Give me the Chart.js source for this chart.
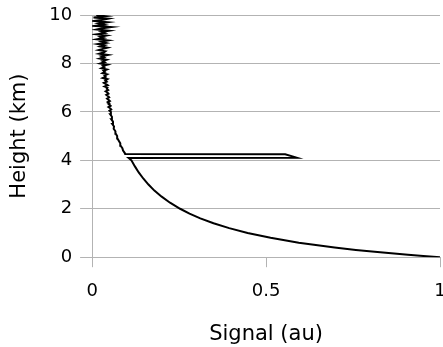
<!DOCTYPE html>
<html>
<head>
<meta charset="utf-8">
<script src="https://cdn.jsdelivr.net/npm/chart.js@4.4.1/dist/chart.umd.min.js"></script>
<style>
  html, body { margin: 0; padding: 0; background: #fff; }
  #wrap { width: 443px; height: 347px; }
</style>
</head>
<body>
<div id="wrap"><canvas id="chart" width="443" height="347"></canvas></div>
<script>
/* --------------- Axis labels --------------------- */
const xTitle = "Signal (au)";
const yTitle = "Height (km)";
const xTickLabels = ["0", "0.5", "1"];
const yTickLabels = ["0", "2", "4", "6", "8", "10"];

/* --------------- Profile: height (km) and signal (au) --------------------- */
// smooth decay below the layer
const lowHeights = [0, 0.05, 0.1, 0.2, 0.3, 0.4, 0.5, 0.6, 0.8, 1.0, 1.2, 1.4, 1.6, 1.8,
  2.0, 2.25, 2.5, 2.75, 3.0, 3.25, 3.5, 3.75, 4.0, 4.1];
const lowSignal = [1.0, 0.952, 0.908, 0.828, 0.758, 0.697, 0.643, 0.594, 0.513, 0.447, 0.394,
  0.349, 0.311, 0.28, 0.253, 0.224, 0.2, 0.179, 0.162, 0.147, 0.134, 0.123, 0.113, 0.105];
// cloud layer spike near 4.2 km
const layerHeights = [4.11, 4.25, 4.26];
const layerSignal = [0.588, 0.555, 0.095];
// noisy part above the layer
const highHeights = [4.3, 4.4, 4.5, 4.6, 4.7, 4.8, 4.9, 5.0, 5.1, 5.2, 5.3, 5.4, 5.5, 5.6,
  5.7, 5.8, 5.9, 6.0,
  6.05, 6.1, 6.15, 6.2, 6.25, 6.3, 6.35, 6.4, 6.45, 6.5, 6.55, 6.6, 6.65, 6.7, 6.75, 6.8,
  6.85, 6.9, 6.95, 7.0, 7.05, 7.1, 7.15, 7.2, 7.25, 7.3, 7.35, 7.4, 7.45, 7.5, 7.55, 7.6,
  7.65, 7.7, 7.75, 7.8, 7.85, 7.9, 7.95, 8.0, 8.05, 8.1, 8.15, 8.2, 8.25, 8.3, 8.35, 8.4,
  8.45, 8.5, 8.55, 8.6, 8.65, 8.7, 8.75, 8.8, 8.85, 8.9, 8.95, 9.0, 9.05, 9.1, 9.15, 9.2,
  9.25, 9.3, 9.35, 9.4, 9.45, 9.5, 9.55, 9.6, 9.65, 9.7, 9.75, 9.8, 9.85, 9.9, 9.95, 10.0];
const highSignal = [0.094, 0.089, 0.087, 0.082, 0.081, 0.077, 0.073, 0.072, 0.068, 0.067,
  0.062, 0.063, 0.058, 0.06, 0.055, 0.057, 0.052, 0.054,
  0.05, 0.055, 0.052, 0.047, 0.053, 0.049, 0.05, 0.045, 0.051, 0.047, 0.043, 0.049, 0.046,
  0.041, 0.047, 0.044, 0.039, 0.046, 0.042, 0.044, 0.036, 0.045, 0.04, 0.034, 0.042, 0.038,
  0.044, 0.031, 0.039, 0.036, 0.043, 0.03, 0.037, 0.033, 0.042, 0.027, 0.035, 0.031, 0.044,
  0.024, 0.036, 0.03, 0.041, 0.022, 0.034, 0.027, 0.045, 0.021, 0.033, 0.038, 0.019, 0.031,
  0.044, 0.024, 0.035, 0.017, 0.04, 0.028, 0.046, 0.015, 0.033, 0.024, 0.041, 0.012, 0.036,
  0.027, 0.048, 0.014, 0.03, 0.055, 0.008, 0.034, 0.02, 0.044, 0.006, 0.031, 0.047, 0.004,
  0.038, 0.012];

const heights = lowHeights.concat(layerHeights, highHeights);
const signal = lowSignal.concat(layerSignal, highSignal);
const points = heights.map((h, i) => ({ x: signal[i], y: h }));

const gridGrey = "#b3b3b3";
const font = "'DejaVu Sans', sans-serif";

new Chart(document.getElementById("chart"), {
  type: "scatter",
  data: {
    datasets: [{
      data: points,
      showLine: true,
      borderColor: "#000",
      borderWidth: 2,
      pointRadius: 0,
      tension: 0,
    }],
  },
  options: {
    responsive: false,
    animation: false,
    layout: { padding: { top: 0, left: 7, right: 0, bottom: 0 } },
    plugins: { legend: { display: false }, tooltip: { enabled: false } },
    scales: {
      x: {
        type: "linear",
        min: 0,
        max: 1,
        afterFit: (s) => { s.paddingRight = 3; },
        afterBuildTicks: (s) => { s.ticks = xTickLabels.map((t) => ({ value: parseFloat(t) })); },
        ticks: {
          color: "#000",
          font: { family: font, size: 18 },
          padding: 13,
          maxRotation: 0,
          callback: (v) => xTickLabels.find((t) => parseFloat(t) === v),
        },
        grid: { drawOnChartArea: false, color: gridGrey, tickLength: 10 },
        border: { color: gridGrey },
        title: { display: true, text: xTitle, color: "#000", font: { family: font, size: 21 }, padding: { top: 7, bottom: 0 } },
      },
      y: {
        type: "linear",
        min: 0,
        max: 10,
        afterFit: (s) => { s.paddingTop = 15; },
        afterBuildTicks: (s) => { s.ticks = yTickLabels.map((t) => ({ value: parseFloat(t) })); },
        ticks: {
          color: "#000",
          font: { family: font, size: 18 },
          padding: 8,
          callback: (v) => yTickLabels.find((t) => parseFloat(t) === v),
        },
        grid: { color: gridGrey, tickLength: 12 },
        border: { color: gridGrey },
        title: { display: true, text: yTitle, color: "#000", font: { family: font, size: 21 }, padding: { top: 0, bottom: 9 } },
      },
    },
  },
});
</script>
</body>
</html>
